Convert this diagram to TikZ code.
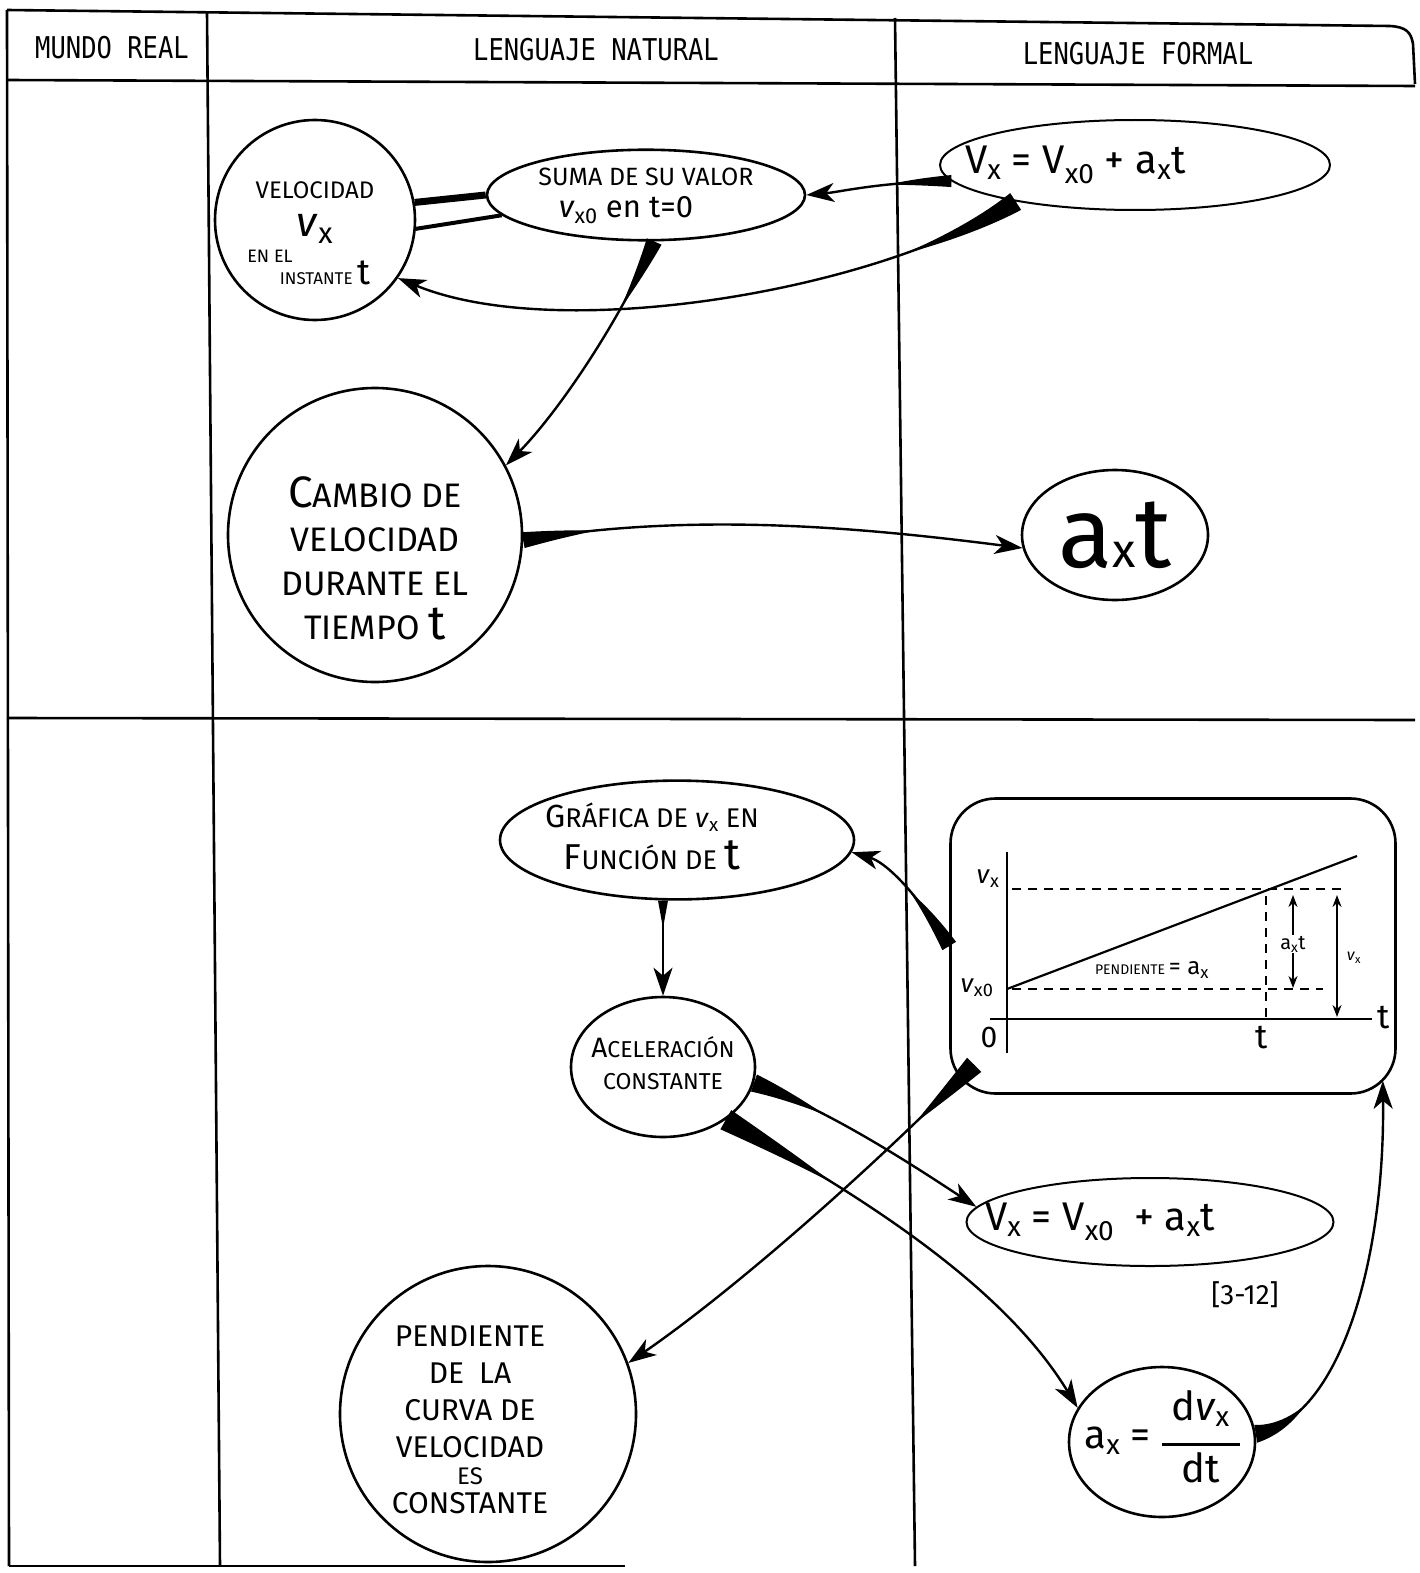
\documentclass[tikz,border=0pt]{standalone}
\usepackage{fontspec}
\setmainfont{Fira Sans}
\newfontfamily\hdrfont{DejaVu Sans Mono}[FakeStretch=0.85]
\usetikzlibrary{shapes.geometric,arrows.meta,calc}

% centred block of lines that does not enlarge its bubble
\newcommand{\inbox}[1]{\makebox[0pt]{\begin{tabular}{@{}c@{}}#1\end{tabular}}}
% same block, lowered by #1 inside its bubble
\newcommand{\lowbox}[2]{\raisebox{-#1}[0pt][0pt]{\inbox{#2}}}
% curved connector that is thick where it leaves its source:
% start, control 1, control 2, end, length of the thick part (0..1), half width at the start
\newcommand{\clink}[6]{%
  \path (#1) .. controls (#2) and (#3) .. (#4) coordinate[pos=#5] (tp);
  \coordinate (q1) at ($(#1)!#5!(#2)$);
  \coordinate (m12) at ($(#2)!#5!(#3)$);
  \coordinate (q2) at ($(q1)!#5!(m12)$);
  \fill ($(#1)!#6!90:(q1)$) .. controls ($(q1)!0.67*#6!90:(q2)$) and ($(q2)!0.33*#6!90:(tp)$) .. (tp)
     .. controls ($(q2)!0.33*#6!-90:(tp)$) and ($(q1)!0.67*#6!-90:(q2)$) .. ($(#1)!#6!-90:(q1)$) -- cycle;
  \draw[link] (#1) .. controls (#2) and (#3) .. (#4);}

\tikzset{
  rule/.style={line width=2.6pt},
  bubble/.style={draw, ellipse, line width=2.6pt, inner sep=0pt, align=center},
  link/.style={line width=2.4pt, -{Stealth[length=28pt,width=19pt,inset=8pt]}},
  heading/.style={font=\hdrfont\fontsize{30}{30}\selectfont},
  dash line/.style={line width=1.8pt, dash pattern=on 9pt off 7pt},
  axis line/.style={line width=2.2pt},
  small arrow/.style={line width=1.8pt, -{Stealth[length=12pt,width=9pt]}},
}

\begin{document}
\begin{tikzpicture}[x=1pt,y=-1pt]
\useasboundingbox (0,0) rectangle (1420,1573);

% ---- table frame ----
\draw[rule] (7,10) -- (1390,26) .. controls (1406,27) and (1411,32) .. (1413,44) -- (1415,84);
\draw[rule] (7,10) -- (9,1566);
\draw[rule] (9,1566) -- (625,1566);
\draw[rule] (7,80) -- (1415,86);
\draw[rule] (7,718) -- (1415,720);
\draw[rule] (207,12) -- (220,1566);
\draw[rule] (895,18) -- (915,1566);

\node[heading] (h1) at (112,48) {MUNDO REAL};
\node[heading] (h2) at (596,50) {LENGUAJE NATURAL};
\node[heading] (h3) at (1138,54) {LENGUAJE FORMAL};

% ---- upper half ----
\node[bubble, minimum size=200pt, font=\fontsize{24}{28}\selectfont] (vel) at (315,220)
  {\lowbox{22pt}{VELOCIDAD\\[8pt]
   {\fontsize{42}{40}\selectfont\textit{v}\textsubscript{x}}\\[-2pt]
   {\fontsize{18}{20}\selectfont EN EL}\hspace*{90pt}\\[-10pt]
   \hspace*{20pt}{\fontsize{17}{20}\selectfont INSTANTE }{\fontsize{36}{30}\selectfont t}}};

\node[bubble, minimum width=318pt, minimum height=90pt, font=\fontsize{25}{32}\selectfont] (sum) at (646,195)
  {\inbox{SUMA DE SU VALOR\\ {\fontsize{31}{31}\selectfont\textit{v}\textsubscript{x0} en t=0}\hspace*{40pt}}};

\node[bubble, minimum width=390pt, minimum height=90pt, line width=2pt, font=\fontsize{40}{40}\selectfont] (eq1) at (1135,165)
  {\makebox[0pt][l]{\hspace*{-170pt}V\textsubscript{x} = V\textsubscript{x0} + a\textsubscript{x}t}};

\node[bubble, minimum size=294pt, font=\fontsize{34}{44}\selectfont] (cam) at (375,535)
  {\lowbox{36pt}{{\fontsize{44}{44}\selectfont C}AMBIO DE\\ VELOCIDAD\\ DURANTE EL\\ TIEMPO {\fontsize{48}{44}\selectfont t}}};

\node[bubble, minimum width=186pt, minimum height=130pt, font=\fontsize{100}{100}\selectfont] (axt) at (1115,535)
  {\makebox[0pt]{a{\fontsize{48}{48}\selectfont x}t}};

% double link between the velocity and its initial value
\draw[line width=7pt] (vel.10) -- (sum.west);
\draw[line width=4pt] (vel.-5) -- (sum.188);

% connectors of the upper half
\clink{eq1.185}{880,182}{840,192}{sum.east}{0.35}{6pt}
\clink{eq1.197}{880,290}{560,345}{vel.-35}{0.22}{10pt}
\clink{sum.-80}{620,320}{560,410}{cam.28}{0.28}{8pt}
\clink{cam.-2}{700,510}{880,530}{axt.188}{0.14}{8pt}

% ---- lower half ----
\node[bubble, minimum width=354pt, minimum height=118pt, font=\fontsize{27}{42}\selectfont] (gra) at (677,840)
  {\makebox[0pt]{\hspace*{-50pt}\begin{tabular}{@{}c@{}}{\fontsize{32}{34}\selectfont G}RÁFICA DE \textit{v}\textsubscript{x} EN\\
   {\fontsize{36}{34}\selectfont F}UNCIÓN DE {\fontsize{44}{40}\selectfont t}\end{tabular}}};

\node[bubble, minimum width=184pt, minimum height=140pt, font=\fontsize{23}{32}\selectfont] (acc) at (663,1067)
  {\inbox{{\fontsize{28}{32}\selectfont A}CELERACIÓN\\ CONSTANTE}};

\node[draw, line width=2.6pt, rounded corners=45pt, minimum width=445pt, minimum height=295pt] (box) at (1173,946) {};

\node[bubble, minimum width=367pt, minimum height=88pt, line width=2pt, font=\fontsize{40}{40}\selectfont] (eq2) at (1150,1222)
  {\makebox[0pt][l]{\hspace*{-165pt}V\textsubscript{x} = V\textsubscript{x0}\enspace + a\textsubscript{x}t}};
\node[font=\fontsize{28}{28}\selectfont] (ref) at (1245,1295) {[3-12]};

\node[bubble, minimum width=186pt, minimum height=150pt, font=\fontsize{40}{40}\selectfont] (adv) at (1162,1442)
  {\makebox[0pt]{a\textsubscript{x} = \begin{tabular}{@{}c@{}}d\textit{v}\textsubscript{x}\\[-14pt]\rule{78pt}{3.5pt}\\[-6pt]dt\end{tabular}}};

\node[bubble, minimum size=296pt, font=\fontsize{30}{37}\selectfont] (pen) at (488,1414)
  {\raisebox{-15pt}[0pt][0pt]{\makebox[0pt]{\hspace*{-36pt}\begin{tabular}{@{}c@{}}PENDIENTE\\ DE\enspace LA\\ CURVA DE\\ VELOCIDAD\\[-10pt]
   {\fontsize{24}{24}\selectfont ES}\\[-8pt] CONSTANTE\end{tabular}}}};

% graph of the velocity against time
\draw[axis line] (990,1019) -- (1372,1019);
\draw[axis line] (1007,852) -- (1007,1053);
\draw[line width=2.2pt] (1007,989) -- (1357,856);
\draw[dash line] (1012,889) -- (1348,889);
\draw[dash line] (1012,989) -- (1323,989);
\draw[dash line] (1266,896) -- (1266,1022);
\node[font=\fontsize{34}{34}\selectfont] (tax) at (1384,1018) {t};
\node[font=\fontsize{30}{30}\selectfont] (zero) at (989,1037) {0};
\node[font=\fontsize{34}{34}\selectfont] (tmark) at (1262,1038) {t};
\node[font=\fontsize{26}{26}\selectfont] (vlab) at (988,879) {\textit{v}\textsubscript{x}};
\node[font=\fontsize{26}{26}\selectfont] (v0lab) at (977,988) {\textit{v}\textsubscript{x0}};
\node[font=\fontsize{14}{14}\selectfont] (slope) at (1152,970) {PENDIENTE {\fontsize{24}{24}\selectfont = a\textsubscript{x}}};
\node[font=\fontsize{20}{20}\selectfont, inner sep=1pt] (atlab) at (1293,944) {a\textsubscript{x}t};
\draw[small arrow] (atlab.north) -- (1293,895);
\draw[small arrow] (atlab.south) -- (1293,988);
\draw[small arrow] (1337,958) -- (1337,895);
\draw[small arrow] (1337,958) -- (1337,1017);
\node[font=\fontsize{16}{16}\selectfont] (vxlab) at (1354,958) {\textit{v}\textsubscript{x}};

% connectors of the lower half
\coordinate (graout) at (gra.south -| acc.north);
\coordinate (boxsw) at ([shift={(25,-30)}]box.south west);
\coordinate (boxse) at ([shift={(-14,-14)}]box.south east);
\clink{box.west}{915,890}{885,862}{gra.-4}{0.4}{8pt}
\clink{graout}{663,930}{663,965}{acc.north}{0.3}{5pt}
\clink{acc.-10}{830,1110}{920,1170}{eq2.175}{0.3}{9pt}
\clink{acc.-40}{850,1190}{1000,1280}{adv.158}{0.28}{11pt}
\clink{boxsw}{850,1190}{720,1300}{pen.20}{0.16}{10pt}
\clink{adv.5}{1340,1420}{1385,1260}{boxse}{0.22}{9pt}

\end{tikzpicture}
\end{document}
